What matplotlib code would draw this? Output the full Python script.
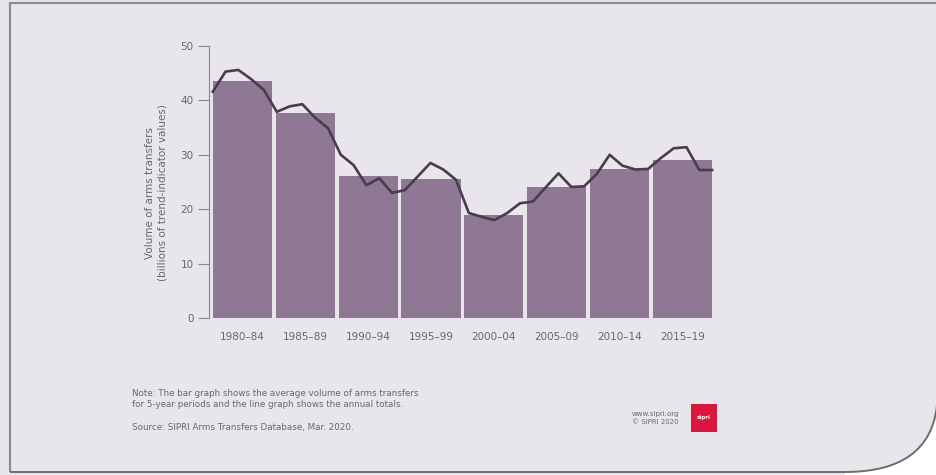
import numpy as np
import matplotlib
matplotlib.use("Agg")
import matplotlib.pyplot as plt
from matplotlib.patches import Rectangle, PathPatch
from matplotlib.path import Path

periods = ["1980–84", "1985–89", "1990–94", "1995–99",
           "2000–04", "2005–09", "2010–14", "2015–19"]
period_avg = [43.6, 37.6, 26.1, 25.6, 19.0, 24.0, 27.4, 29.0]

years = list(range(1980, 2020))
annual = [41.6, 45.3, 45.6, 43.9, 41.9, 37.9, 38.9, 39.3, 36.8, 34.9,
          30.0, 28.1, 24.4, 25.7, 23.0, 23.5, 26.0, 28.5, 27.3, 25.4,
          19.3, 18.6, 18.0, 19.3, 21.1, 21.4, 24.0, 26.6, 24.1, 24.2,
          26.5, 30.0, 28.0, 27.3, 27.4, 29.4, 31.2, 31.4, 27.2, 27.2]

bg = "#e8e6eb"
bar_col = "#8f7893"
line_col = "#4b3b4f"
text_col = "#6a6670"

W, H = 937, 475
fig = plt.figure(figsize=(W / 100, H / 100), dpi=100)
fig.patch.set_facecolor(bg)

# main chart
ax = fig.add_axes([209 / W, 1 - 318 / H, 505 / W, 272 / H])
ax.set_facecolor("none")
bw = 0.94
x = np.arange(len(periods))
ax.bar(x, period_avg, width=bw, color=bar_col, zorder=2)
xl = np.linspace(-bw / 2, len(periods) - 1 + bw / 2, len(years))
ax.plot(xl, annual, color=line_col, lw=1.9, zorder=3)

ax.set_xlim(-0.53, 7.5)
ax.set_ylim(0, 50)
ax.set_yticks([0, 10, 20, 30, 40, 50])
ax.set_xticks(x)
ax.set_xticklabels(periods)
for s in ["top", "right", "bottom"]:
    ax.spines[s].set_visible(False)
ax.spines["left"].set_color("#8a8690")
ax.spines["left"].set_linewidth(0.8)
ax.tick_params(axis="y", length=8, width=0.8, color="#8a8690",
               labelsize=7.5, labelcolor=text_col, pad=3)
ax.tick_params(axis="x", length=0, labelsize=7.5, labelcolor=text_col, pad=10)
ax.set_ylabel("Volume of arms transfers\n(billions of trend-indicator values)",
              fontsize=7.5, color=text_col, linespacing=1.25)
ax.yaxis.set_label_coords(-0.083, 0.46)

# overlay in pixel coords for the frame and footer
ov = fig.add_axes([0, 0, 1, 1], zorder=-1)
ov.set_xlim(0, W)
ov.set_ylim(H, 0)
ov.axis("off")

corner_fill = Path([(W + 2, 405), (W + 2, H + 2), (845, H + 2), (845, 472),
                    (930, 472), (W + 2, 405), (W + 2, 405)],
                   [Path.MOVETO, Path.LINETO, Path.LINETO, Path.LINETO,
                    Path.CURVE3, Path.CURVE3, Path.CLOSEPOLY])
ov.add_patch(PathPatch(corner_fill, facecolor="white", edgecolor="none"))
frame = Path([(10, 472), (10, 3), (W, 3)], [Path.MOVETO, Path.LINETO, Path.LINETO])
ov.add_patch(PathPatch(frame, facecolor="none", edgecolor="#8c8c8c", lw=1.6))
ov.add_patch(PathPatch(Path([(10, 472), (845, 472), (930, 472), (W, 405)],
                            [Path.MOVETO, Path.LINETO, Path.CURVE3, Path.CURVE3]),
                       facecolor="none", edgecolor="#6e6e6e", lw=1.4))

ov.text(132, 389, "Note: The bar graph shows the average volume of arms transfers\n"
        "for 5-year periods and the line graph shows the annual totals.",
        fontsize=6.3, color=text_col, va="top", linespacing=1.35)
ov.text(132, 423, "Source: SIPRI Arms Transfers Database, Mar. 2020.",
        fontsize=6.3, color=text_col, va="top")
ov.text(632, 411, "www.sipri.org\n© SIPRI 2020", fontsize=5, color=text_col,
        va="top", linespacing=1.3)
ov.add_patch(Rectangle((691, 404), 26, 28, facecolor="#d9173f", edgecolor="none"))
ov.text(704, 418, "sipri", fontsize=4, color="white", ha="center", va="center",
        fontweight="bold")

fig.savefig("out.png", dpi=100, facecolor=bg)
